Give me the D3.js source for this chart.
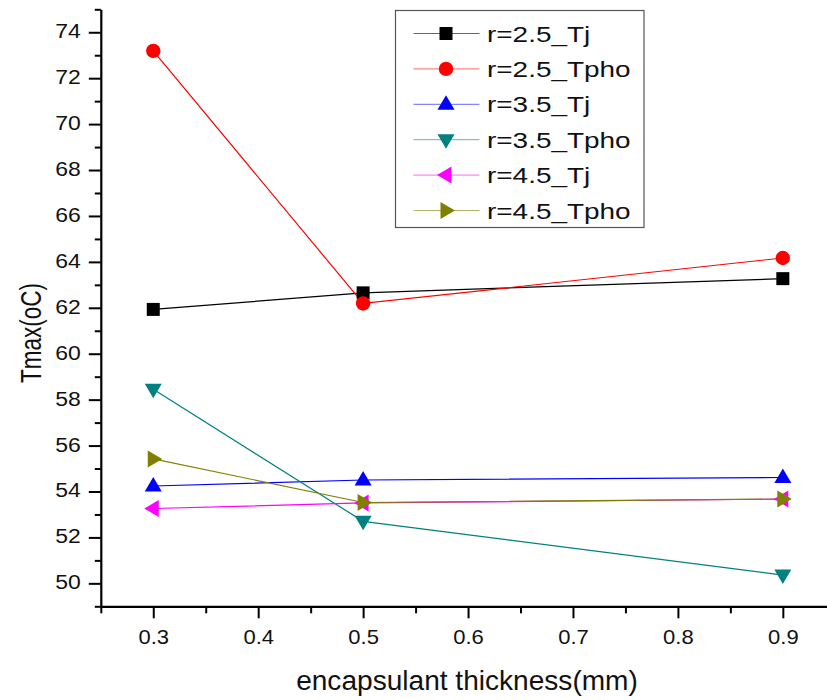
<!DOCTYPE html>
<html>
<head>
<meta charset="utf-8">
<script src="https://cdn.jsdelivr.net/npm/d3@7"></script>
<style>
  html, body { margin: 0; padding: 0; background: #fff; }
  svg { display: block; }
  text { font-family: "Liberation Sans", Arial, sans-serif; fill: #111; }
</style>
</head>
<body>
<svg id="chart" width="827" height="700"></svg>
<script>
// Encapsulant thickness (mm) on the x axis
const thickness = [0.3, 0.5, 0.9];

// Maximum temperature series (°C)
const r25Tj   = [61.93, 62.65, 63.27];
const r25Tpho = [73.19, 62.19, 64.17];
const r35Tj   = [54.24, 54.50, 54.61];
const r35Tpho = [58.45, 52.70, 50.36];
const r45Tj   = [53.26, 53.50, 53.67];
const r45Tpho = [55.42, 53.52, 53.67];

const seriesNames = ["r=2.5_Tj", "r=2.5_Tpho", "r=3.5_Tj", "r=3.5_Tpho", "r=4.5_Tj", "r=4.5_Tpho"];
const seriesValues = [r25Tj, r25Tpho, r35Tj, r35Tpho, r45Tj, r45Tpho];

// Axis ticks
const xMajorTicks = [0.3, 0.4, 0.5, 0.6, 0.7, 0.8, 0.9];
const xMinorTicks = [0.25, 0.35, 0.45, 0.55, 0.65, 0.75, 0.85, 0.95];
const yMajorTicks = [50, 52, 54, 56, 58, 60, 62, 64, 66, 68, 70, 72, 74];
const yMinorTicks = [49, 51, 53, 55, 57, 59, 61, 63, 65, 67, 69, 71, 73, 75];

const xTitle = "encapsulant thickness(mm)";
const yTitle = "Tmax(oC)";

const colors = ["#000000", "#ff0000", "#0000ff", "#008080", "#ff00ff", "#808000"];
const shapes = ["square", "circle", "triUp", "triDown", "triLeft", "triRight"];

const svg = d3.select("#chart");

const x = d3.scaleLinear().domain([0.25, 0.95]).range([100.8, 835.3]);
const y = d3.scaleLinear().domain([49, 75]).range([606.3, 9.3]);

// marker path generator centred on (0,0)
function markerPath(shape) {
  const s = 6.5;
  switch (shape) {
    case "square": return `M${-s},${-s}H${s}V${s}H${-s}Z`;
    case "circle": return d3.symbol(d3.symbolCircle, Math.PI * 7.2 * 7.2)();
    case "triUp":  return `M0,-9L8.5,5.5L-8.5,5.5Z`;
    case "triDown":return `M0,9L8.5,-5.5L-8.5,-5.5Z`;
    case "triLeft":return `M-9,0L5.5,-8.5L5.5,8.5Z`;
    case "triRight":return `M9,0L-5.5,-8.5L-5.5,8.5Z`;
  }
}

// ---- axes ----
const x0 = x.range()[0];
const yBottom = y.range()[0];

const xAxisMajor = d3.axisBottom(x).tickValues(xMajorTicks).tickSize(12).tickSizeOuter(0)
  .tickFormat(d3.format(".1f"));
const xAxisMinor = d3.axisBottom(x).tickValues(xMinorTicks).tickSize(7).tickSizeOuter(0).tickFormat("");
const yAxisMajor = d3.axisLeft(y).tickValues(yMajorTicks).tickSize(12).tickSizeOuter(0)
  .tickFormat(d3.format("d"));
const yAxisMinor = d3.axisLeft(y).tickValues(yMinorTicks).tickSize(6).tickSizeOuter(0).tickFormat("");

function styleAxis(g) {
  g.selectAll(".domain").attr("stroke", "#000").attr("stroke-width", 2.2);
  g.selectAll(".tick line").attr("stroke", "#000").attr("stroke-width", 2);
}

const gxMinor = svg.append("g").attr("transform", `translate(0,${yBottom})`).call(xAxisMinor).call(styleAxis);
gxMinor.select(".domain").remove();
const gx = svg.append("g").attr("transform", `translate(0,${yBottom})`).call(xAxisMajor).call(styleAxis);
gx.selectAll(".tick text")
  .attr("font-size", 20).attr("fill", "#111")
  .attr("font-family", "Liberation Sans, Arial, sans-serif")
  .attr("y", 0).attr("dy", 0)
  .attr("transform", "translate(0,38) scale(1.1,1)");

const gyMinor = svg.append("g").attr("transform", `translate(${x0},0)`).call(yAxisMinor).call(styleAxis);
gyMinor.select(".domain").remove();
const gy = svg.append("g").attr("transform", `translate(${x0},0)`).call(yAxisMajor).call(styleAxis);
gy.selectAll(".tick text")
  .attr("font-size", 20.5).attr("fill", "#111")
  .attr("font-family", "Liberation Sans, Arial, sans-serif")
  .attr("x", 0).attr("dy", 0).attr("text-anchor", "end")
  .attr("transform", "translate(-20,5.5) scale(1.12,1)");

// ---- axis titles ----
svg.append("text")
  .attr("transform", `translate(467,690) scale(1.08,1.05)`)
  .attr("text-anchor", "middle")
  .attr("font-size", 26)
  .text(xTitle);

svg.append("text")
  .attr("transform", `translate(41,333) rotate(-90) scale(1,1.35)`)
  .attr("text-anchor", "middle")
  .attr("font-size", 22.5)
  .text(yTitle);

// ---- series ----
const line = d3.line().x((d, i) => x(thickness[i])).y(d => y(d));

seriesValues.forEach((vals, k) => {
  svg.append("path")
    .datum(vals)
    .attr("d", line)
    .attr("fill", "none")
    .attr("stroke", colors[k])
    .attr("stroke-width", 1.2);
});

seriesValues.forEach((vals, k) => {
  svg.append("g").selectAll("path")
    .data(vals)
    .join("path")
    .attr("d", markerPath(shapes[k]))
    .attr("transform", (d, i) => `translate(${x(thickness[i])},${y(d)})`)
    .attr("fill", colors[k]);
});

// ---- legend ----
const legend = svg.append("g").attr("transform", "translate(395.5,10.5)");
legend.append("rect")
  .attr("width", 248.5).attr("height", 217)
  .attr("fill", "#fff").attr("stroke", "#555").attr("stroke-width", 1.2);

const rowY = d3.scaleLinear().domain([0, 5]).range([23, 200]);
seriesNames.forEach((name, k) => {
  const g = legend.append("g").attr("transform", `translate(0,${rowY(k)})`);
  g.append("line")
    .attr("x1", 18).attr("x2", 84)
    .attr("stroke", colors[k]).attr("stroke-width", 1).attr("stroke-opacity", 0.6);
  g.append("path")
    .attr("d", markerPath(shapes[k]))
    .attr("transform", "translate(50.5,0)")
    .attr("fill", colors[k]);
  g.append("text")
    .attr("transform", "translate(91.5,8) scale(1.27,1.03)")
    .attr("font-size", 22)
    .text(name);
});
</script>
</body>
</html>
